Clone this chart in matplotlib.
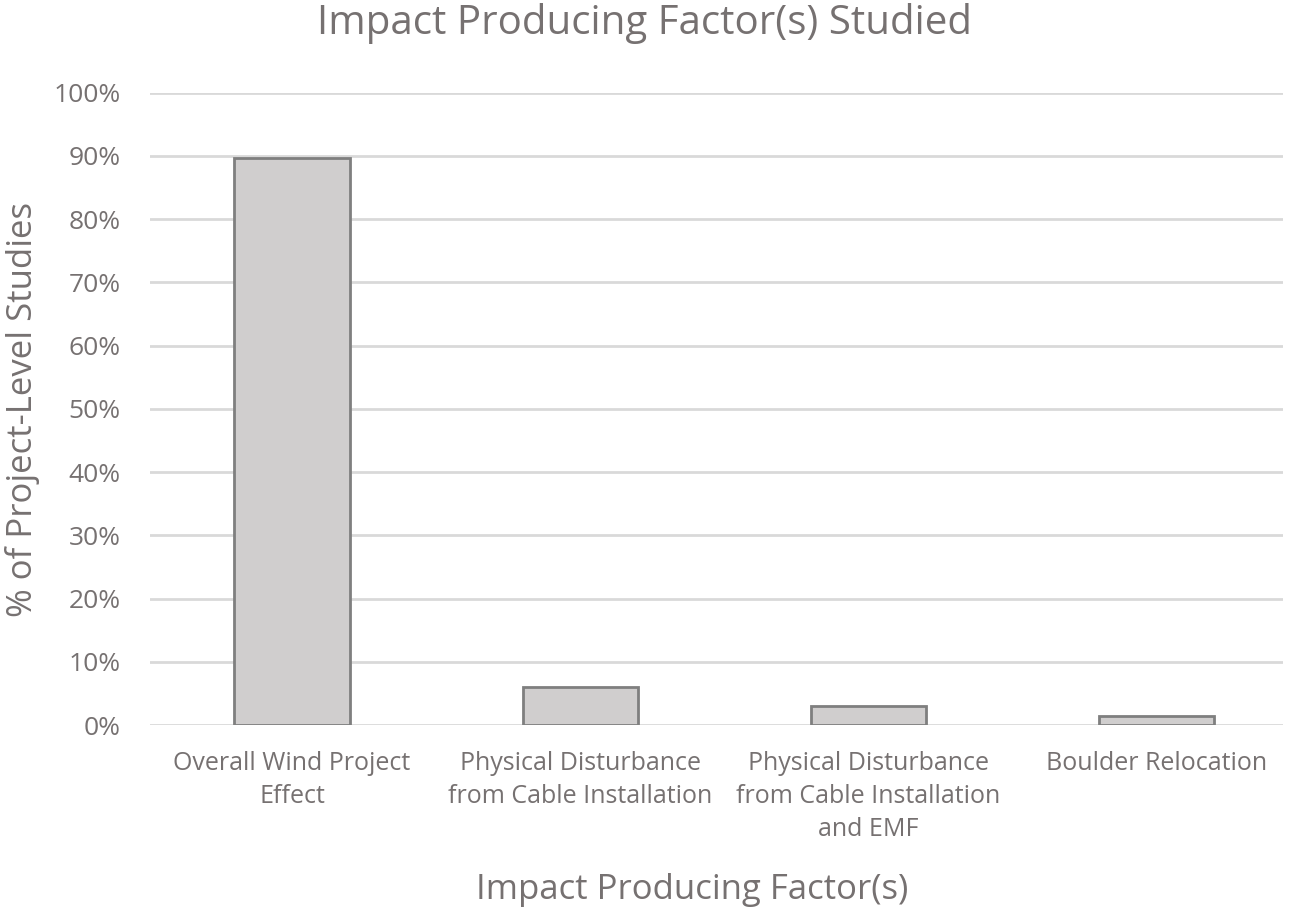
import matplotlib.pyplot as plt
import numpy as np

# data
categories = ["Overall Wind Project\nEffect",
              "Physical Disturbance\nfrom Cable Installation",
              "Physical Disturbance\nfrom Cable Installation\nand EMF",
              "Boulder Relocation"]
values = [89.6, 6.0, 3.0, 1.5]
yticks = np.arange(0, 101, 10)

text_col = "#767171"
plt.rcParams['font.family'] = ['Open Sans', 'DejaVu Sans']

fig = plt.figure(figsize=(12.99, 9.18), dpi=100)
ax = fig.add_axes([0.1155, 0.2102, 0.8725, 0.6888])

x = np.arange(len(categories))
ax.bar(x, values, width=0.40, color="#D0CECE", edgecolor="#7F7F7F",
       linewidth=2, zorder=3)

ax.set_xlim(-0.493, 3.441)
ax.set_ylim(0, 100)
ax.set_yticks(yticks)
ax.set_yticklabels([f"{v}%" for v in yticks], fontsize=19, color=text_col)
ax.set_xticks(x)
ax.set_xticklabels(categories, fontsize=18, color=text_col, linespacing=1.4)
ax.tick_params(axis='y', length=0, pad=21)
ax.tick_params(axis='x', length=0, pad=19)
ax.grid(axis='y', color="#D9D9D9", linewidth=2, zorder=0)
for s in ax.spines.values():
    s.set_visible(False)

fig.text(0.017, 0.554, "% of Project-Level Studies", rotation=90, ha='center',
         va='center', fontsize=25, color=text_col)
fig.text(0.533, 0.031, "Impact Producing Factor(s)", ha='center', va='center',
         fontsize=25, color=text_col)
fig.text(0.496, 0.974, "Impact Producing Factor(s) Studied", ha='center', va='center',
         fontsize=29, color=text_col)

fig.savefig("out.png", dpi=100)
